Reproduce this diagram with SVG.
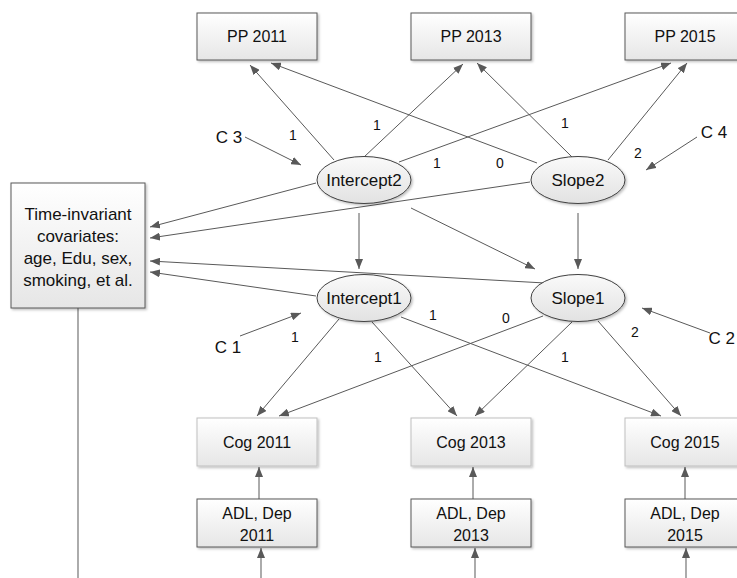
<svg xmlns="http://www.w3.org/2000/svg" width="737" height="578" viewBox="0 0 737 578">
<defs>
  <linearGradient id="gBox" x1="0" y1="0" x2="0" y2="1">
    <stop offset="0" stop-color="#ffffff"/>
    <stop offset="1" stop-color="#e6e6e6"/>
  </linearGradient>
  <linearGradient id="gEll" x1="0" y1="0" x2="0" y2="1">
    <stop offset="0" stop-color="#fafafa"/>
    <stop offset="1" stop-color="#e2e2e2"/>
  </linearGradient>
  <filter id="sh" x="-10%" y="-10%" width="130%" height="130%">
    <feDropShadow dx="1.5" dy="1.5" stdDeviation="1.2" flood-color="#000" flood-opacity="0.25"/>
  </filter>
  <marker id="ah" markerUnits="userSpaceOnUse" markerWidth="11" markerHeight="8" refX="10" refY="4" orient="auto">
    <path d="M0,0 L10,4 L0,8 z" fill="#595959"/>
  </marker>
</defs>
<style>
  text { font-family: "Liberation Sans", Arial, sans-serif; fill: #111; text-anchor: middle; }
  .t16 { font-size: 16px; }
  .t17 { font-size: 17px; }
  .lbl { font-size: 14px; }
  .box { fill: url(#gBox); stroke: #595959; stroke-width: 1; filter: url(#sh); }
  .boxl { fill: url(#gBox); stroke: #bfbfbf; stroke-width: 1; filter: url(#sh); }
  .ell { fill: url(#gEll); stroke: #404040; stroke-width: 1; filter: url(#sh); }
  .c { stroke: #595959; stroke-width: 1; fill: none; marker-end: url(#ah); }
  .cg { stroke: #7f7f7f; stroke-width: 1.3; fill: none; }
  .cga { stroke: #7f7f7f; stroke-width: 1.3; fill: none; marker-end: url(#ah); }
</style>
<rect width="737" height="578" fill="#ffffff"/>

<g id="connectors">
  <!-- Intercept2 to PP -->
  <line class="c" x1="334" y1="160" x2="250" y2="65"/>
  <line class="c" x1="364" y1="157" x2="463" y2="64"/>
  <line class="c" x1="399" y1="162" x2="671" y2="63"/>
  <!-- Slope2 to PP -->
  <line class="c" x1="537" y1="163" x2="271" y2="63"/>
  <line class="c" x1="572" y1="157" x2="477" y2="63"/>
  <line class="c" x1="608" y1="160" x2="687" y2="63"/>
  <!-- C3, C4 -->
  <line class="c" x1="245" y1="137" x2="301" y2="165"/>
  <line class="c" x1="697" y1="137" x2="646" y2="170"/>
  <!-- to covariates -->
  <line class="c" x1="316" y1="183" x2="150" y2="227"/>
  <line class="c" x1="530" y1="182" x2="150" y2="238"/>
  <line class="c" x1="545" y1="283" x2="150" y2="261"/>
  <line class="c" x1="316" y1="296" x2="150" y2="272"/>
  <!-- level 2 to level 1 -->
  <line class="c" x1="359" y1="213" x2="359" y2="269"/>
  <line class="c" x1="578" y1="213" x2="578" y2="269"/>
  <line class="c" x1="411" y1="208" x2="535" y2="269"/>
  <!-- C1, C2 -->
  <line class="c" x1="240" y1="336" x2="301" y2="313"/>
  <line class="c" x1="710" y1="333" x2="642" y2="308"/>
  <!-- Intercept1 to Cog -->
  <line class="c" x1="339" y1="319" x2="257" y2="416"/>
  <line class="c" x1="372" y1="322" x2="457" y2="416"/>
  <line class="c" x1="401" y1="317" x2="661" y2="416"/>
  <!-- Slope1 to Cog -->
  <line class="c" x1="543" y1="316" x2="279" y2="416"/>
  <line class="c" x1="572" y1="322" x2="475" y2="416"/>
  <line class="c" x1="598" y1="321" x2="681" y2="416"/>
  <!-- ADL to Cog -->
  <line class="c" x1="259" y1="499" x2="259" y2="467"/>
  <line class="c" x1="473" y1="499" x2="473" y2="467"/>
  <line class="c" x1="685" y1="499" x2="685" y2="467"/>
  <!-- bottom inputs -->
  <line class="cga" x1="261" y1="578" x2="261" y2="548"/>
  <line class="cga" x1="475" y1="578" x2="475" y2="548"/>
  <line class="cga" x1="686" y1="578" x2="686" y2="548"/>
  <!-- covariates line down -->
  <line class="cg" x1="78" y1="308" x2="78" y2="578"/>
</g>

<g id="labels">
  <text class="lbl" x="293" y="140">1</text>
  <text class="lbl" x="377" y="130">1</text>
  <text class="lbl" x="565" y="128">1</text>
  <text class="lbl" x="437" y="168">1</text>
  <text class="lbl" x="500" y="168">0</text>
  <text class="lbl" x="638" y="158">2</text>
  <text class="lbl" x="295" y="342">1</text>
  <text class="lbl" x="378" y="362">1</text>
  <text class="lbl" x="433" y="320">1</text>
  <text class="lbl" x="506" y="323">0</text>
  <text class="lbl" x="635" y="337">2</text>
  <text class="lbl" x="565" y="362">1</text>
  <text class="t17" x="229" y="143">C 3</text>
  <text class="t17" x="714" y="138">C 4</text>
  <text class="t17" x="228" y="353">C 1</text>
  <text class="t17" x="735" y="344" style="text-anchor:end">C 2</text>
</g>

<g id="pp2011"><rect class="box" x="197" y="13" width="120" height="47"/><text class="t16" x="257" y="42">PP 2011</text></g>
<g id="pp2013"><rect class="box" x="411" y="13" width="120" height="47"/><text class="t16" x="471" y="42">PP 2013</text></g>
<g id="pp2015"><rect class="box" x="625" y="13" width="120" height="47"/><text class="t16" x="685" y="42">PP 2015</text></g>

<g id="intercept2"><ellipse class="ell" cx="364" cy="180" rx="47" ry="23.5"/><text class="t17" x="364" y="186">Intercept2</text></g>
<g id="slope2"><ellipse class="ell" cx="578" cy="180" rx="47" ry="23.5"/><text class="t17" x="578" y="186">Slope2</text></g>
<g id="intercept1"><ellipse class="ell" cx="364" cy="298" rx="47" ry="23.5"/><text class="t17" x="364" y="304">Intercept1</text></g>
<g id="slope1"><ellipse class="ell" cx="578" cy="298" rx="47" ry="23.5"/><text class="t17" x="578" y="304">Slope1</text></g>

<g id="covariates">
  <rect class="box" x="11" y="183" width="134" height="125"/>
  <text class="t17" x="78" y="220">Time-invariant</text>
  <text class="t17" x="78" y="242">covariates:</text>
  <text class="t17" x="78" y="264">age, Edu, sex,</text>
  <text class="t17" x="78" y="286">smoking, et al.</text>
</g>

<g id="cog2011"><rect class="boxl" x="197" y="418" width="120" height="48"/><text class="t16" x="257" y="448">Cog 2011</text></g>
<g id="cog2013"><rect class="boxl" x="411" y="418" width="120" height="48"/><text class="t16" x="471" y="448">Cog 2013</text></g>
<g id="cog2015"><rect class="boxl" x="625" y="418" width="120" height="48"/><text class="t16" x="685" y="448">Cog 2015</text></g>

<g id="adl2011"><rect class="box" x="197" y="499" width="120" height="48"/><text class="t16" x="257" y="519">ADL, Dep</text><text class="t16" x="257" y="541">2011</text></g>
<g id="adl2013"><rect class="box" x="411" y="499" width="120" height="48"/><text class="t16" x="471" y="519">ADL, Dep</text><text class="t16" x="471" y="541">2013</text></g>
<g id="adl2015"><rect class="box" x="625" y="499" width="120" height="48"/><text class="t16" x="685" y="519">ADL, Dep</text><text class="t16" x="685" y="541">2015</text></g>
</svg>
